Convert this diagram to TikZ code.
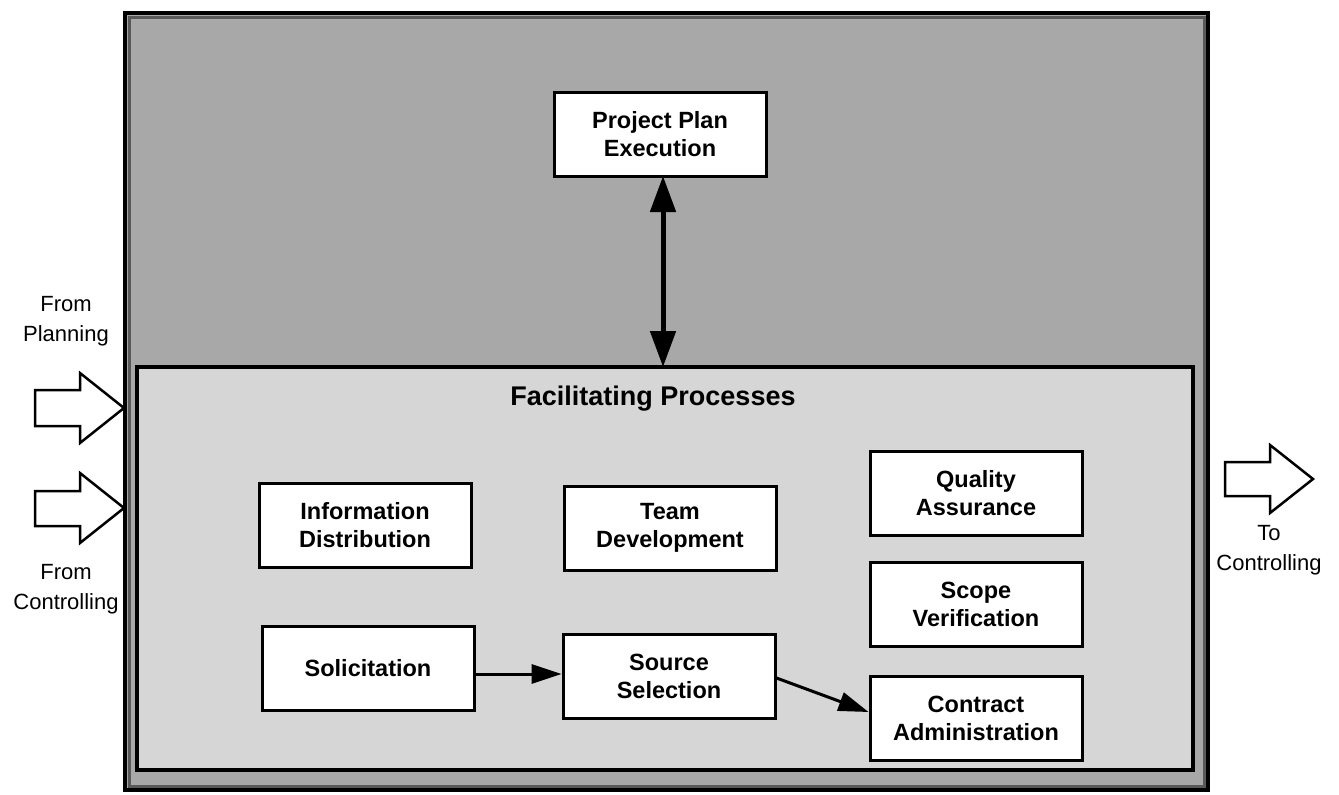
\documentclass[tikz,border=0pt]{standalone}
\usepackage{fontspec}
\setmainfont{Liberation Sans}
\usetikzlibrary{arrows.meta}
\definecolor{outerfill}{gray}{0.66}
\definecolor{innerfill}{gray}{0.84}
\begin{document}
\begin{tikzpicture}[x=1pt,y=-1pt,
  procbox/.style={draw, line width=3pt, fill=white, minimum width=212pt, minimum height=84pt,
    inner sep=0pt, align=center, font=\fontsize{23.5}{28}\selectfont\bfseries},
  sidelabel/.style={align=center, inner sep=0pt, font=\fontsize{22}{30}\selectfont},
  blockarrow/.style={draw, line width=2.5pt, fill=white, line join=miter},
  flow/.style={line width=3pt, -{Triangle[length=30pt,width=19pt]}},
  link/.style={line width=5pt, {Triangle[length=36pt,width=25pt]}-{Triangle[length=36pt,width=25pt]}}]
\useasboundingbox (0,0) rectangle (1339,795);

% outer execution area
\fill[outerfill] (125,13) rectangle (1208,790);
\draw[gray!70!black, line width=3pt] (129,17) rectangle (1204,786);
\draw[line width=3.5pt] (125,13) rectangle (1208,790);

% facilitating processes area
\draw[line width=3.5pt, fill=innerfill] (137,367) rectangle (1193,770);
\node[font=\fontsize{27}{30}\selectfont\bfseries] (fac) at (653,399) {Facilitating Processes};

% core process
\node[procbox] (ppe) at (660,134) {Project Plan\\Execution};
\coordinate (facTop) at (663,367);
\draw[link] (663,176) -- (facTop);

% facilitating processes
\node[procbox] (info) at (365,525) {Information\\Distribution};
\node[procbox] (team) at (670,528) {Team\\Development};
\node[procbox] (qa) at (976,493) {Quality\\Assurance};
\node[procbox] (scope) at (976,604) {Scope\\Verification};
\node[procbox] (sol) at (368,668) {Solicitation};
\node[procbox] (src) at (669,676) {Source\\Selection};
\node[procbox] (ca) at (976,718) {Contract\\Administration};

\draw[flow] (sol.east |- 0,674) -- (src.west |- 0,674);
\draw[flow] (src.east |- 0,678) -- (ca.west |- 0,712);

% inputs and output
\draw[blockarrow] (35,390) -- (80,390) -- (80,373) -- (124,408) -- (80,443) -- (80,426) -- (35,426) -- cycle;
\draw[blockarrow] (35,491) -- (80,491) -- (80,473) -- (124,508) -- (80,543) -- (80,526) -- (35,526) -- cycle;
\draw[blockarrow] (1225,462) -- (1270,462) -- (1270,445) -- (1313,479) -- (1270,513) -- (1270,496) -- (1225,496) -- cycle;

\node[sidelabel] (fromPlan) at (66,321) {From\\Planning};
\node[sidelabel] (fromCtrl) at (66,589) {From\\Controlling};
\node[sidelabel] (toCtrl) at (1269,550) {To\\Controlling};
\end{tikzpicture}
\end{document}
